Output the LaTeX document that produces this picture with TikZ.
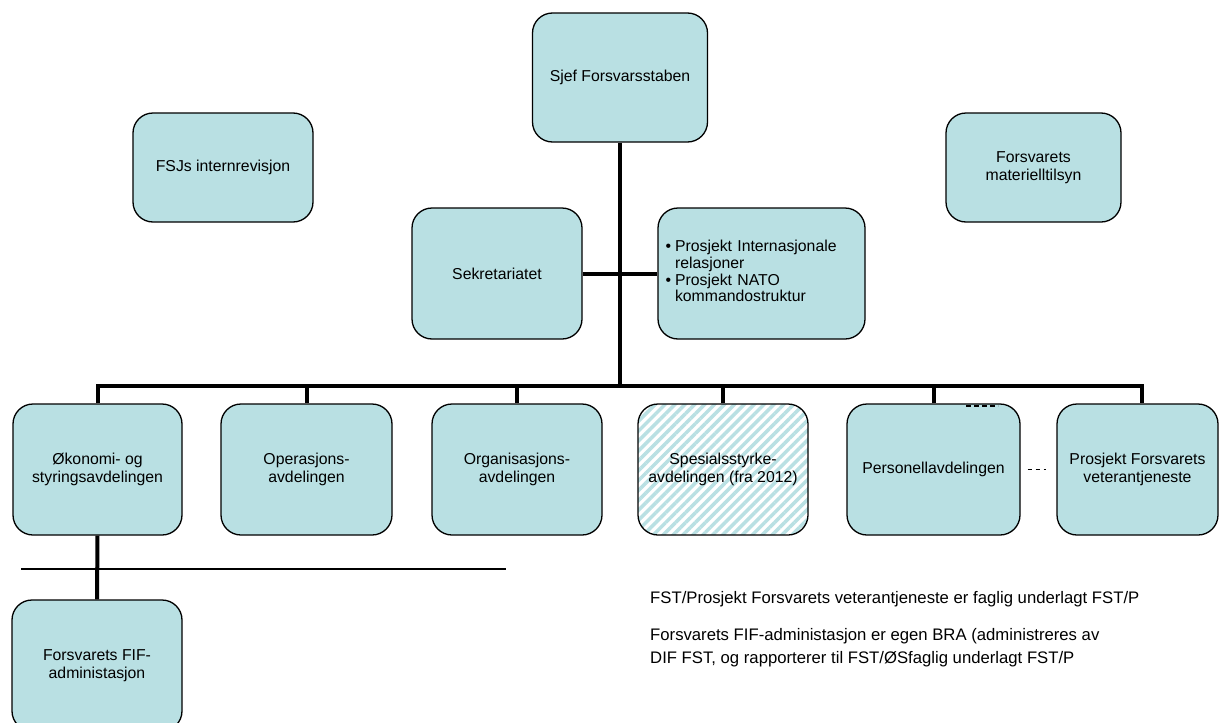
\documentclass[tikz,border=0pt]{standalone}
\usepackage{fontspec}
\setmainfont{Liberation Sans}
\usetikzlibrary{patterns.meta}
\definecolor{orgblue}{RGB}{185,224,227}
\begin{document}
\begin{tikzpicture}[x=1pt,y=-1pt,
    box/.style={draw,line width=1.3pt,rounded corners=20pt,fill=orgblue,align=center,inner sep=0pt,
        font=\fontsize{15.8}{18}\selectfont,minimum width=170pt,minimum height=131pt},
    conn/.style={line width=4pt},
    note/.style={anchor=north west,align=left,inner sep=0pt,font=\fontsize{16.7}{23}\selectfont}]
    \useasboundingbox (0,0) rectangle (1219,723);

    \node[box,minimum width=175pt,minimum height=129pt] (sjef) at (620,77.5) {Sjef Forsvarsstaben};
    \node[box,minimum width=180pt,minimum height=109pt] (revisjon) at (223,167.5) {FSJs internrevisjon};
    \node[box,minimum width=175pt,minimum height=109pt] (tilsyn) at (1033.5,167.5) {Forsvarets\\ materielltilsyn};

    \node[box] (sekr) at (497,273.5) {Sekretariatet};
    \node[box,minimum width=207pt,text width=192pt,align=left] (intl) at (761.5,273.5)
        {\fontsize{15.8}{16.7}\selectfont
         \begin{tabular}{@{}l@{\hspace{4pt}}l@{}}
         \textbullet & Prosjekt Internasjonale\\
                     & relasjoner\\
         \textbullet & Prosjekt NATO\\
                     & kommandostruktur
         \end{tabular}};

    \node[box,minimum width=169pt] (oko) at (97.5,469.5) {Økonomi- og\\ styringsavdelingen};
    \node[box,minimum width=171pt] (oper) at (306.5,469.5) {Operasjons-\\ avdelingen};
    \node[box] (org) at (517,469.5) {Organisasjons-\\ avdelingen};
    \node[box,fill=none,preaction={fill=white},
        preaction={pattern={Lines[angle=45,distance=7pt,line width=3.5pt]},pattern color=orgblue}]
        (spes) at (723,469.5) {Spesialsstyrke-\\ avdelingen (fra 2012)};
    \node[box,minimum width=173pt] (pers) at (933.5,469.5) {Personellavdelingen};
    \node[box,minimum width=161pt] (vet) at (1137.5,469.5) {Prosjekt Forsvarets\\ veterantjeneste};

    \node[box] (fif) at (97,665.5) {Forsvarets FIF-\\ administasjon};

    % linjer
    \coordinate (busL) at (97,386);
    \coordinate (busR) at (1142,386);
    \draw[conn] (oko.north) |- (busR) -- (busR |- vet.north);
    \draw[conn] (sjef.south) -- (sjef.south |- busL);
    \foreach \n in {oper,org,spes,pers}
        \draw[conn] (\n.north) -- (\n.north |- busL);
    \draw[conn] (sekr.east) -- (intl.west);
    \draw[conn] (oko.south) -- (fif.north);

    \draw[line width=1.3pt] (21,569) -- (506,569);
    \draw[line width=1.3pt,dash pattern=on 5pt off 3pt] (966,406) -- (998,406);
    \draw[line width=1.3pt,dash pattern=on 4pt off 4pt,shorten <=7pt,shorten >=10pt] (pers.east) -- (vet.west);

    \node[note] (merk1) at (650,591) {FST/Prosjekt Forsvarets veterantjeneste er faglig underlagt FST/P};
    \node[note] (merk2) at (650,628) {Forsvarets FIF-administasjon er egen BRA (administreres av\\
        DIF FST, og rapporterer til FST/ØSfaglig underlagt FST/P};
\end{tikzpicture}
\end{document}
